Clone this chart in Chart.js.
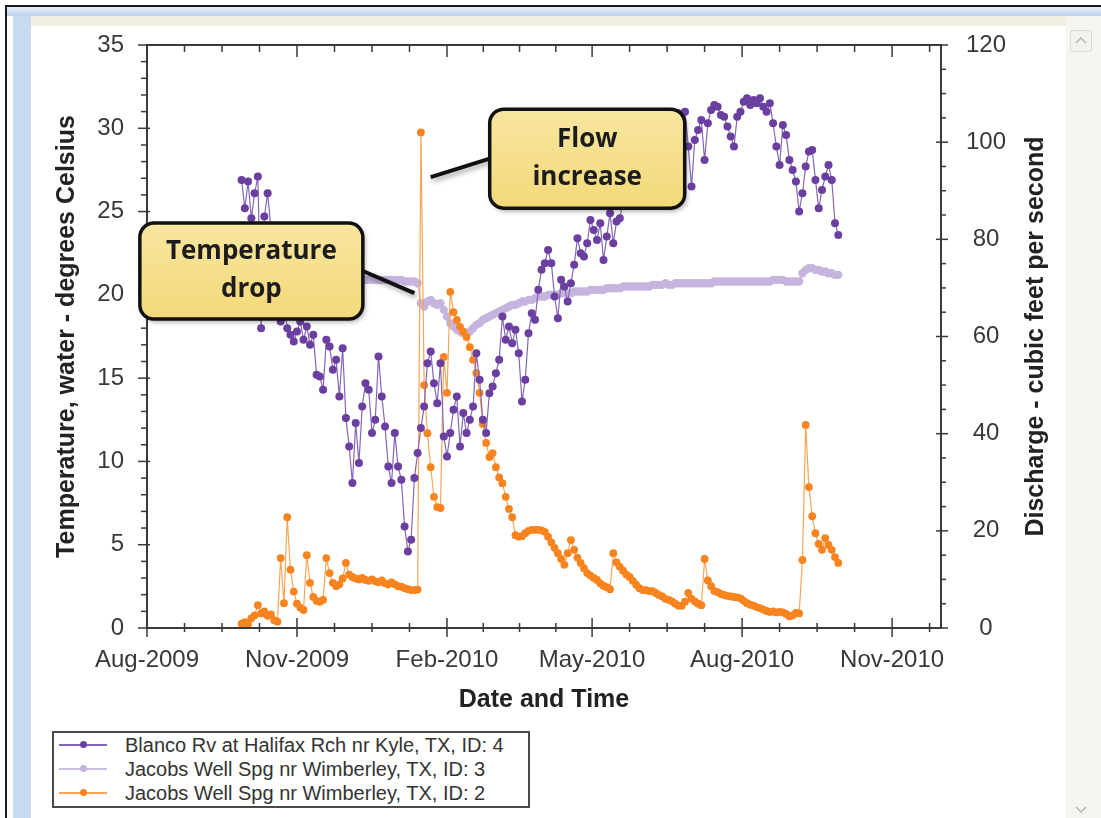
<!DOCTYPE html>
<html>
<head>
<meta charset="utf-8">
<script src="https://cdn.jsdelivr.net/npm/chart.js@4.4.1/dist/chart.umd.min.js"></script>
<style>
  html, body { margin: 0; padding: 0; background: #fff; }
  body { width: 1101px; height: 818px; position: relative; overflow: hidden; font-family: "Liberation Sans", Arial, sans-serif; }
  .borde { position: absolute; }
  #grafico { position: absolute; left: 0; top: 0; }
  #leyenda { position: absolute; left: 52px; top: 731px; width: 474px; height: 73px; border: 2px solid #4a4a4a; background: #fff; }
  .fila { height: 24px; display: flex; align-items: center; font-size: 20px; color: #333; white-space: nowrap; }
  .muestra { position: relative; width: 48px; height: 24px; margin-left: 5px; margin-right: 18px; }
  .muestra .linea { position: absolute; left: 0; right: 0; top: 11px; height: 1.5px; }
  .muestra .punto { position: absolute; left: 21px; top: 8px; width: 7px; height: 7px; border-radius: 50%; }
</style>
</head>
<body>
<!-- marco de la ventana -->
<div class="borde" style="left:5px;top:5px;width:1096px;height:2px;background:#1a1a1a"></div>
<div class="borde" style="left:5px;top:5px;width:2px;height:813px;background:#1a1a1a"></div>
<div class="borde" style="left:7px;top:7px;width:1094px;height:9px;background:linear-gradient(#e6eef9,#bcd1ec)"></div>
<div class="borde" style="left:13px;top:16px;width:18px;height:802px;background:#c9dbf3"></div>
<div class="borde" style="left:31px;top:16px;width:1035px;height:10px;background:#f2f0e5"></div>
<div class="borde" style="left:1066px;top:16px;width:35px;height:802px;background:#f6f5ef"></div>
<svg class="borde" style="left:1070px;top:30px" width="22" height="22"><rect x="0.5" y="0.5" width="21" height="21" rx="2" fill="#f3f2ec" stroke="#dcdad2"/><polyline points="6,13 11,8 16,13" fill="none" stroke="#b5b5b5" stroke-width="1.5"/></svg>
<svg class="borde" style="left:1070px;top:800px" width="22" height="18"><polyline points="6,7 11,12 16,7" fill="none" stroke="#b5b5b5" stroke-width="1.5"/></svg>

<canvas id="grafico" width="1101" height="818"></canvas>
<div id="leyenda"></div>

<script>
// Eje de fechas: días contados desde el 1 de agosto de 2009
const inicioEje = '2009-08-01';
const finEje = '2010-12-01';
const aDias = (f) => (Date.parse(f) - Date.parse(inicioEje)) / 86400000;

// Marcas principales del eje X (cada 3 meses)
const fechasEje = ['2009-08-01', '2009-11-01', '2010-02-01', '2010-05-01', '2010-08-01', '2010-11-01'];
const etiquetasEje = ['Aug-2009', 'Nov-2009', 'Feb-2010', 'May-2010', 'Aug-2010', 'Nov-2010'];

// Las tres series empiezan el mismo día, un valor cada 2 días
const primeraFecha = '2009-09-28';
const pasoDias = 2;

// Blanco Rv at Halifax Rch nr Kyle, TX, ID: 4 (°C)
const temperaturaBlanco = [
  26.9, 25.2, 26.8, 24.6, 26.1, 27.1, 18.0, 24.7, 26.1, 24.0,
  21.5, 19.3, 18.4, 19.6, 18.0, 17.6, 17.2, 17.8, 18.4, 17.3,
  18.1, 17.0, 17.6, 15.2, 15.1, 14.3, 17.3, 16.9, 15.5, 16.1,
  13.9, 16.8, 12.6, 10.9, 8.7, 12.3, 9.9, 13.3, 14.7, 14.3,
  11.7, 12.5, 16.3, 13.9, 12.1, 9.7, 8.7, 11.7, 9.7, 8.9,
  6.1, 4.6, 5.3, 9.0, 10.5, 12.0, 13.3, 15.9, 16.6, 14.7,
  13.5, 15.9, 11.5, 10.3, 11.7, 13.1, 13.9, 10.9, 12.9, 11.7,
  12.5, 13.3, 16.5, 14.9, 12.5, 11.7, 14.1, 14.5, 15.3, 16.1,
  18.7, 17.3, 18.1, 17.1, 17.9, 16.5, 13.6, 14.9, 17.7, 18.9,
  18.5, 20.3, 21.5, 21.9, 22.7, 21.9, 19.9, 18.6, 20.9, 20.5,
  19.6, 20.7, 21.8, 23.4, 22.5, 22.3, 23.1, 24.5, 23.9, 23.3,
  24.3, 22.1, 23.5, 24.9, 23.1, 24.4, 24.6, 25.6, 26.0, 25.5,
  26.4, 27.2, 26.1, 27.5, 28.3, 27.0, 28.6, 29.4, 28.1, 29.7,
  30.3, 29.0, 30.6, 29.8, 30.9, 29.5, 31.0, 28.9, 26.5, 29.3,
  29.9, 30.5, 28.1, 30.3, 31.1, 31.4, 31.3, 30.8, 30.7, 30.1,
  29.5, 28.9, 30.7, 31.0, 31.6, 31.8, 31.4, 31.7, 31.5, 31.8,
  31.3, 31.0, 31.5, 30.3, 28.9, 27.8, 30.2, 29.6, 28.1, 27.5,
  26.8, 25.0, 26.1, 27.7, 28.6, 28.7, 26.9, 25.2, 26.3, 27.1,
  27.8, 26.9, 24.3, 23.6
];

// Jacobs Well Spg nr Wimberley, TX, ID: 3 (°C)
const temperaturaJacobs = [
  20.9, 20.9, 21.0, 20.9, 20.9, 20.9, 20.8, 20.9, 20.9, 21.0,
  20.9, 20.9, 20.9, 20.9, 20.8, 20.9, 20.9, 20.9, 21.0, 20.9,
  20.9, 20.9, 20.9, 20.9, 20.9, 20.8, 20.9, 20.9, 20.9, 20.9,
  21.0, 20.9, 20.9, 20.9, 20.9, 20.9, 20.9, 20.9, 20.9, 20.9,
  20.9, 20.9, 20.9, 20.9, 20.9, 20.9, 20.9, 20.9, 20.9, 20.9,
  20.8, 20.8, 20.8, 20.8, 20.7, 19.5, 19.3, 19.6, 19.7, 19.5,
  19.4, 19.5, 19.1, 18.7, 18.3, 18.1, 17.9, 17.8, 17.7, 17.7,
  17.8, 18.0, 18.2, 18.3, 18.5, 18.6, 18.7, 18.8, 18.9, 19.0,
  19.1, 19.2, 19.3, 19.4, 19.4, 19.5, 19.6, 19.6, 19.7, 19.7,
  19.8, 19.9, 19.9, 19.9, 20.0, 20.0, 20.0, 20.0, 20.1, 20.1,
  20.1, 20.1, 20.2, 20.2, 20.2, 20.2, 20.2, 20.3, 20.3, 20.3,
  20.3, 20.3, 20.4, 20.4, 20.4, 20.4, 20.4, 20.5, 20.5, 20.5,
  20.5, 20.5, 20.5, 20.5, 20.5, 20.5, 20.6, 20.6, 20.6, 20.6,
  20.7, 20.6, 20.6, 20.7, 20.7, 20.7, 20.7, 20.7, 20.7, 20.7,
  20.7, 20.7, 20.7, 20.7, 20.7, 20.8, 20.8, 20.8, 20.8, 20.8,
  20.8, 20.8, 20.8, 20.8, 20.8, 20.8, 20.8, 20.8, 20.8, 20.8,
  20.8, 20.8, 20.8, 20.9, 20.9, 20.9, 20.9, 20.8, 20.8, 20.8,
  20.8, 20.8, 21.3, 21.5, 21.6, 21.6, 21.5, 21.5, 21.4, 21.4,
  21.3, 21.3, 21.2, 21.2
];

// Jacobs Well Spg nr Wimberley, TX, ID: 2 (pies cúbicos por segundo)
const caudalJacobs = [
  0.9, 1.2, 0.8, 2.0, 2.6, 4.7, 3.0, 3.4, 2.5, 2.8,
  1.6, 1.3, 14.4, 5.1, 22.8, 12.0, 7.5, 5.0, 4.2, 3.7,
  15.0, 9.3, 6.4, 5.6, 5.4, 5.8, 14.4, 11.3, 9.3, 8.6,
  9.0, 10.2, 13.4, 11.0, 10.5, 10.2, 10.0, 10.3, 9.9, 9.7,
  10.0, 9.6, 9.4, 9.8, 9.2, 9.0, 9.4, 9.0, 8.6, 8.5,
  8.2, 8.0, 7.8, 7.8, 7.9, 102.0, 50.0, 40.1, 33.1, 27.0,
  24.9, 24.7, 55.8, 48.4, 69.2, 65.0, 63.4, 62.0, 61.0, 59.9,
  57.8, 55.2, 52.5, 48.4, 42.0, 38.1, 35.2, 36.0, 33.1, 31.0,
  29.8, 27.0, 24.5, 22.8, 19.1, 18.8, 18.9, 19.5, 20.0, 20.2,
  20.2, 20.2, 20.1, 19.8, 18.8, 17.6, 16.5, 15.4, 14.2, 13.0,
  15.4, 18.1, 16.1, 14.5, 13.4, 12.3, 11.3, 10.8, 10.3, 9.9,
  9.2, 8.7, 8.4, 8.0, 15.4, 13.5, 12.6, 11.8, 11.0, 10.5,
  9.7, 8.9, 8.2, 7.8, 7.8, 7.6, 7.6, 7.2, 6.8, 6.5,
  6.0, 5.8, 5.5, 5.0, 4.6, 4.6, 5.4, 7.2, 6.0, 5.5,
  5.0, 4.7, 14.2, 9.8, 8.6, 7.6, 7.4, 7.0, 6.8, 6.6,
  6.5, 6.4, 6.3, 6.1, 5.6, 5.1, 4.8, 4.6, 4.3, 4.1,
  3.8, 3.5, 3.3, 3.4, 3.2, 3.3, 3.2, 2.9, 2.4, 2.6,
  3.1, 3.0, 14.0, 41.8, 29.0, 23.0, 19.5, 17.3, 16.1, 18.5,
  17.1, 16.1, 14.6, 13.4
];

// Convierte una lista de valores en puntos {x: día, y: valor}
const serie = (valores) => valores.map((v, i) => ({ x: aDias(primeraFecha) + i * pasoDias, y: v }));

// Cuadros de texto con su flecha (posiciones en unidades de los ejes)
const llamadas = [
  { texto: ['Temperature', 'drop'], eje: 'y', centro: ['2009-10-04', 21.43], ancho: 223, alto: 96, punta: ['2010-01-12', 20.1] },
  { texto: ['Flow', 'increase'], eje: 'y1', centro: ['2010-04-28', 96.6], ancho: 195, alto: 99, punta: ['2010-01-22', 92.8] }
];

const fuenteEjes = '"Liberation Sans", Arial, sans-serif';

// Marco del área de trazado y marcas de división
const marcoEjes = {
  id: 'marcoEjes',
  afterDatasetsDraw(chart) {
    const { ctx, chartArea: a, scales: { x, y, y1 } } = chart;
    const marca = (x0, y0, x1, y1b) => { ctx.beginPath(); ctx.moveTo(x0, y0); ctx.lineTo(x1, y1b); ctx.stroke(); };
    ctx.save();
    ctx.strokeStyle = '#3a3a3a';
    ctx.lineWidth = 2;
    ctx.strokeRect(a.left, a.top, a.right - a.left, a.bottom - a.top);
    ctx.lineWidth = 1.5;
    // eje X: cuatro divisiones entre cada mes rotulado
    const mayores = fechasEje.map(aDias);
    mayores.forEach((m, i) => {
      const sig = i + 1 < mayores.length ? mayores[i + 1] : m + (m - mayores[i - 1]);
      for (let k = 0; k < 4; k++) {
        const v = m + (sig - m) * k / 4;
        if (v > x.max) break;
        const px = x.getPixelForValue(v);
        const larga = k === 0;
        marca(px, a.bottom - (larga ? 10 : 5), px, a.bottom + (larga ? 9 : 4));
        marca(px, a.top, px, a.top + (larga ? 12 : 7));
      }
    });
    // eje izquierdo: cada grado
    for (let t = y.min; t <= y.max; t += 1) {
      const py = y.getPixelForValue(t);
      const larga = t % 5 === 0;
      marca(a.left - (larga ? 9 : 6), py, a.left + (larga ? 3 : 0), py);
    }
    // eje derecho: cada 5 cfs
    for (let q = y1.min; q <= y1.max; q += 5) {
      const py = y1.getPixelForValue(q);
      const larga = q % 20 === 0;
      marca(a.right - (larga ? 5 : 0), py, a.right + (larga ? 7 : 5), py);
    }
    ctx.restore();
  }
};

// Título del eje derecho (se lee de abajo hacia arriba) y cuadros de texto
const anotaciones = {
  id: 'anotaciones',
  afterDraw(chart) {
    const { ctx, scales } = chart;
    const { x, y1 } = scales;

    ctx.save();
    ctx.translate(y1.left + 95, (y1.top + y1.bottom) / 2);
    ctx.rotate(-Math.PI / 2);
    ctx.font = 'bold 25px ' + fuenteEjes;
    ctx.fillStyle = '#222';
    ctx.textAlign = 'center';
    ctx.textBaseline = 'middle';
    ctx.fillText('Discharge - cubic feet per second', 0, 0);
    ctx.restore();

    llamadas.forEach((c) => {
      const eje = scales[c.eje];
      const cx = x.getPixelForValue(aDias(c.centro[0]));
      const cy = eje.getPixelForValue(c.centro[1]);
      const px = x.getPixelForValue(aDias(c.punta[0]));
      const py = eje.getPixelForValue(c.punta[1]);
      const izq = cx - c.ancho / 2;
      const arr = cy - c.alto / 2;
      const bordeX = px > cx ? izq + c.ancho : izq;

      ctx.save();
      ctx.shadowColor = 'rgba(0,0,0,0.35)';
      ctx.shadowBlur = 5;
      ctx.shadowOffsetX = 2;
      ctx.shadowOffsetY = 3;
      // flecha
      ctx.strokeStyle = '#111';
      ctx.lineWidth = 4;
      ctx.beginPath();
      ctx.moveTo(bordeX, cy);
      ctx.lineTo(px, py);
      ctx.stroke();
      // caja
      const g = ctx.createLinearGradient(0, arr, 0, arr + c.alto);
      g.addColorStop(0, '#f8e6a0');
      g.addColorStop(1, '#f3d979');
      ctx.fillStyle = g;
      ctx.beginPath();
      ctx.roundRect(izq, arr, c.ancho, c.alto, 14);
      ctx.fill();
      ctx.shadowColor = 'transparent';
      ctx.lineWidth = 3.5;
      ctx.stroke();
      // texto
      ctx.fillStyle = '#1c1c1c';
      ctx.font = 'bold 26px "Open Sans", "Noto Sans", sans-serif';
      ctx.textAlign = 'center';
      ctx.textBaseline = 'middle';
      ctx.fillText(c.texto[0], cx, cy - 19);
      ctx.fillText(c.texto[1], cx, cy + 19);
      ctx.restore();
    });
  }
};

const grafico = new Chart(document.getElementById('grafico'), {
  type: 'line',
  data: {
    datasets: [
      {
        label: 'Blanco Rv at Halifax Rch nr Kyle, TX, ID: 4',
        data: serie(temperaturaBlanco),
        yAxisID: 'y',
        borderColor: '#8466b8',
        borderWidth: 1.2,
        pointBackgroundColor: '#6a3fa0',
        pointBorderWidth: 0,
        pointRadius: 4,
        order: 1
      },
      {
        label: 'Jacobs Well Spg nr Wimberley, TX, ID: 3',
        data: serie(temperaturaJacobs),
        yAxisID: 'y',
        borderColor: '#cbbce2',
        borderWidth: 1.5,
        pointBackgroundColor: '#c5b4de',
        pointBorderWidth: 0,
        pointRadius: 4.2,
        order: 3
      },
      {
        label: 'Jacobs Well Spg nr Wimberley, TX, ID: 2',
        data: serie(caudalJacobs),
        yAxisID: 'y1',
        borderColor: '#f9a458',
        borderWidth: 1.2,
        pointBackgroundColor: '#f7841e',
        pointBorderWidth: 0,
        pointRadius: 3.9,
        order: 2
      }
    ]
  },
  options: {
    responsive: false,
    animation: false,
    devicePixelRatio: 1,
    layout: { padding: { left: 52, top: 45, right: 0, bottom: 98 } },
    plugins: {
      legend: { display: false },
      tooltip: { enabled: false }
    },
    scales: {
      x: {
        type: 'linear',
        min: 0,
        max: aDias(finEje),
        afterBuildTicks: (s) => { s.ticks = fechasEje.map((f) => ({ value: aDias(f) })); },
        afterFit: (s) => { s.height = 92; },
        ticks: {
          callback: (v, i) => etiquetasEje[i],
          autoSkip: false,
          maxRotation: 0,
          padding: 18,
          color: '#383838',
          font: { family: fuenteEjes, size: 24 }
        },
        grid: { display: false, drawTicks: false },
        border: { display: false },
        title: {
          display: true,
          text: 'Date and Time',
          color: '#222',
          font: { family: fuenteEjes, size: 25, weight: 'bold' },
          padding: { top: 0, bottom: 5 }
        }
      },
      y: {
        position: 'left',
        min: 0,
        max: 35,
        afterFit: (s) => { s.width = 95; },
        ticks: { stepSize: 5, padding: 23, color: '#383838', font: { family: fuenteEjes, size: 24 } },
        grid: { display: false, drawTicks: false },
        border: { display: false },
        title: {
          display: true,
          text: 'Temperature, water - degrees Celsius',
          color: '#222',
          font: { family: fuenteEjes, size: 25, weight: 'bold' },
          padding: 0
        }
      },
      y1: {
        position: 'right',
        min: 0,
        max: 120,
        afterFit: (s) => { s.width = 160; },
        ticks: { stepSize: 20, padding: 25, crossAlign: 'center', color: '#383838', font: { family: fuenteEjes, size: 24 } },
        grid: { display: false, drawTicks: false },
        border: { display: false }
      }
    }
  },
  plugins: [marcoEjes, anotaciones]
});

// Leyenda en HTML a partir de las series del gráfico
const leyenda = document.getElementById('leyenda');
grafico.data.datasets.forEach((ds) => {
  const fila = document.createElement('div');
  fila.className = 'fila';
  fila.innerHTML =
    '<div class="muestra"><div class="linea" style="background:' + ds.borderColor + '"></div>' +
    '<div class="punto" style="background:' + ds.pointBackgroundColor + '"></div></div>' +
    '<span>' + ds.label + '</span>';
  leyenda.appendChild(fila);
});
</script>
</body>
</html>
